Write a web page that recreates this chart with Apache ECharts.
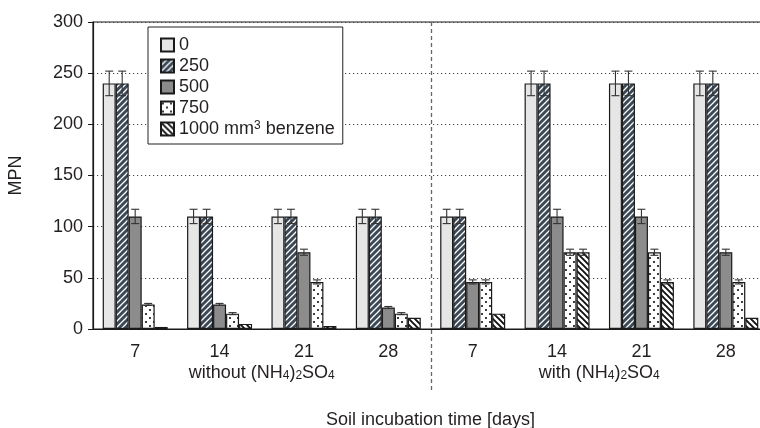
<!DOCTYPE html>
<html>
<head>
<meta charset="utf-8">
<script src="https://cdn.jsdelivr.net/npm/echarts@6/dist/echarts.min.js"></script>
<style>
  html, body { margin: 0; padding: 0; background: #fff; }
  #chart { width: 760px; height: 428px; }
</style>
</head>
<body>
<div id="chart"></div>
<script>
// incubation days, two blocks of four
const days = ['7', '14', '21', '28', '7', '14', '21', '28']
const groups = ['without (NH4)2SO4', 'with (NH4)2SO4']
const doses = ['0', '250', '500', '750', '1000 mm3 benzene']

// MPN per benzene dose
const mpn0 = [240, 110, 110, 110, 110, 240, 240, 240]
const mpn250 = [240, 110, 110, 110, 110, 240, 240, 240]
const mpn500 = [110, 24, 75, 21, 46, 110, 110, 75]
const mpn750 = [24, 15, 46, 15, 46, 75, 75, 46]
const mpn1000 = [2, 5, 3, 11, 15, 75, 46, 11]

// error bar half-widths
const err0 = [12, 7, 7, 7, 7, 12, 12, 12]
const err250 = [12, 7, 7, 7, 7, 12, 12, 12]
const err500 = [7, 1, 3, 1, 2, 7, 7, 3]
const err750 = [1, 1, 2, 1, 2, 3, 3, 2]
const err1000 = [0, 0, 0, 0, 0, 3, 2, 0]

const yTicks = { min: 0, max: 300, interval: 50 }

const values = [mpn0, mpn250, mpn500, mpn750, mpn1000]
const errors = [err0, err250, err500, err750, err1000]

const FONT = '"Liberation Sans", Arial, sans-serif'
const TEXT = '#231f20'
const GAP = 0.23

/** diagonal stripes tile */
function stripes(bg, fg, dir, p, lw) {
  const c = document.createElement('canvas')
  c.width = p
  c.height = p
  const ctx = c.getContext('2d')
  ctx.fillStyle = bg
  ctx.fillRect(0, 0, p, p)
  ctx.strokeStyle = fg
  ctx.lineWidth = lw
  ctx.beginPath()
  if (dir === '/') {
    for (const k of [0, p, 2 * p]) {
      ctx.moveTo(k + 1, -1)
      ctx.lineTo(k - p - 1, p + 1)
    }
  } else {
    for (const k of [-p, 0, p]) {
      ctx.moveTo(k - 1, -1)
      ctx.lineTo(k + p + 1, p + 1)
    }
  }
  ctx.stroke()
  return { image: c, repeat: 'repeat' }
}

/** staggered dots tile */
function dots(bg, fg, p, r) {
  const c = document.createElement('canvas')
  c.width = p
  c.height = p
  const ctx = c.getContext('2d')
  ctx.fillStyle = bg
  ctx.fillRect(0, 0, p, p)
  ctx.fillStyle = fg
  ctx.fillRect(p / 4 - r / 2, p / 4 - r / 2, r, r)
  ctx.fillRect((3 * p) / 4 - r / 2, (3 * p) / 4 - r / 2, r, r)
  return { image: c, repeat: 'repeat' }
}

const fills = [
  '#e6e6e6',
  stripes('#3b4855', '#ffffff', '/', 6, 1.3),
  '#8c8c8c',
  dots('#ffffff', '#111111', 8, 1.8),
  stripes('#ffffff', '#111111', '\\', 6, 1.9),
]

const richSub = {
  sub: { fontSize: 12, lineHeight: 12, verticalAlign: 'bottom', fontFamily: FONT, color: TEXT },
  sup: { fontSize: 12, lineHeight: 12, verticalAlign: 'top', fontFamily: FONT, color: TEXT },
}

function chem(s) {
  return s.replace('(NH4)2SO4', '(NH{sub|4}){sub|2}SO{sub|4}')
}

const chart = echarts.init(document.getElementById('chart'))

const barSeries = doses.map((name, i) => ({
  name,
  type: 'bar',
  data: values[i],
  barGap: '0%',
  barCategoryGap: GAP * 100 + '%',
  itemStyle: { color: fills[i], borderColor: '#1a1a1a', borderWidth: 1.2 },
  emphasis: { disabled: true },
  z: 2,
}))

const errSeries = {
  type: 'custom',
  name: 'err',
  z: 5,
  silent: true,
  data: values.flatMap((arr, s) => arr.map((v, j) => [j, v, errors[s][j], s])),
  encode: { x: 0, y: 1 },
  renderItem(params, api) {
    const e = api.value(2)
    if (!e) return null
    const j = api.value(0)
    const v = api.value(1)
    const s = api.value(3)
    const band = api.size([1, 0])[0]
    const bw = (band * (1 - GAP)) / doses.length
    const x = api.coord([j, v])[0] + (s - 2) * bw
    const y1 = api.coord([j, v + e])[1]
    const y2 = api.coord([j, v - e])[1]
    const cap = 4
    const st = { stroke: '#333', lineWidth: 1.1 }
    return {
      type: 'group',
      children: [
        { type: 'line', shape: { x1: x, y1, x2: x, y2 }, style: st },
        { type: 'line', shape: { x1: x - cap, y1, x2: x + cap, y2: y1 }, style: st },
        { type: 'line', shape: { x1: x - cap, y1: y2, x2: x + cap, y2 }, style: st },
      ],
    }
  },
}

chart.setOption({
  animation: false,
  textStyle: { fontFamily: FONT },
  grid: {
    left: 93,
    top: 22,
    width: 675,
    height: 307,
    outerBoundsMode: 'none',
    show: true,
    borderColor: '#1a1a1a',
    borderWidth: 1.2,
    backgroundColor: 'transparent',
  },
  legend: {
    data: doses,
    orient: 'vertical',
    left: 148,
    top: 27,
    padding: [9, 8, 6, 12],
    icon: 'rect',
    itemWidth: 13,
    itemHeight: 13,
    itemGap: 3,
    borderColor: '#222',
    borderWidth: 1,
    backgroundColor: '#fff',
    selectedMode: false,
    textStyle: { fontSize: 18, color: TEXT, fontFamily: FONT, lineHeight: 18, rich: richSub },
    formatter: (n) => n.replace('mm3', 'mm{sup|3}'),
  },
  xAxis: [
    {
      type: 'category',
      data: days,
      axisLine: { lineStyle: { color: '#1a1a1a', width: 1.2 } },
      axisTick: { length: 5, lineStyle: { color: '#1a1a1a' } },
      axisLabel: { fontSize: 18, color: TEXT, margin: 14, interval: 0 },
      name: 'Soil incubation time [days]',
      nameLocation: 'middle',
      nameGap: 82,
      nameTextStyle: { fontSize: 18, color: TEXT },
    },
    {
      type: 'category',
      data: groups,
      position: 'bottom',
      offset: 23,
      axisLine: { show: false },
      axisTick: { show: false },
      axisLabel: {
        fontSize: 18,
        color: TEXT,
        margin: 12,
        interval: 0,
        formatter: chem,
        rich: richSub,
      },
    },
  ],
  yAxis: {
    type: 'value',
    ...yTicks,
    name: 'MPN',
    nameLocation: 'middle',
    nameGap: 68,
    nameTextStyle: { fontSize: 18, color: TEXT },
    axisLine: { show: true, lineStyle: { color: '#1a1a1a', width: 1.2 } },
    axisTick: { show: true, length: 5, lineStyle: { color: '#1a1a1a' } },
    axisLabel: { fontSize: 18, color: TEXT, margin: 10 },
    splitLine: { lineStyle: { color: '#444', type: [1.2, 2.8], width: 1 } },
  },
  series: [...barSeries, errSeries],
})

// dashed divider between the two blocks, placed through the axis scales
const xa = chart.convertToPixel({ xAxisIndex: 0 }, 3)
const xb = chart.convertToPixel({ xAxisIndex: 0 }, 4)
const yTop = chart.convertToPixel({ yAxisIndex: 0 }, yTicks.max)
const yBase = chart.convertToPixel({ yAxisIndex: 0 }, 0)
const xm = Math.round((xa + xb) / 2) + 0.5
chart.setOption({
  graphic: [
    {
      type: 'line',
      z: 10,
      shape: { x1: xm, y1: yTop, x2: xm, y2: yBase + 63 },
      style: { stroke: '#666', lineWidth: 1.3, lineDash: [4, 3] },
    },
  ],
})
</script>
</body>
</html>
